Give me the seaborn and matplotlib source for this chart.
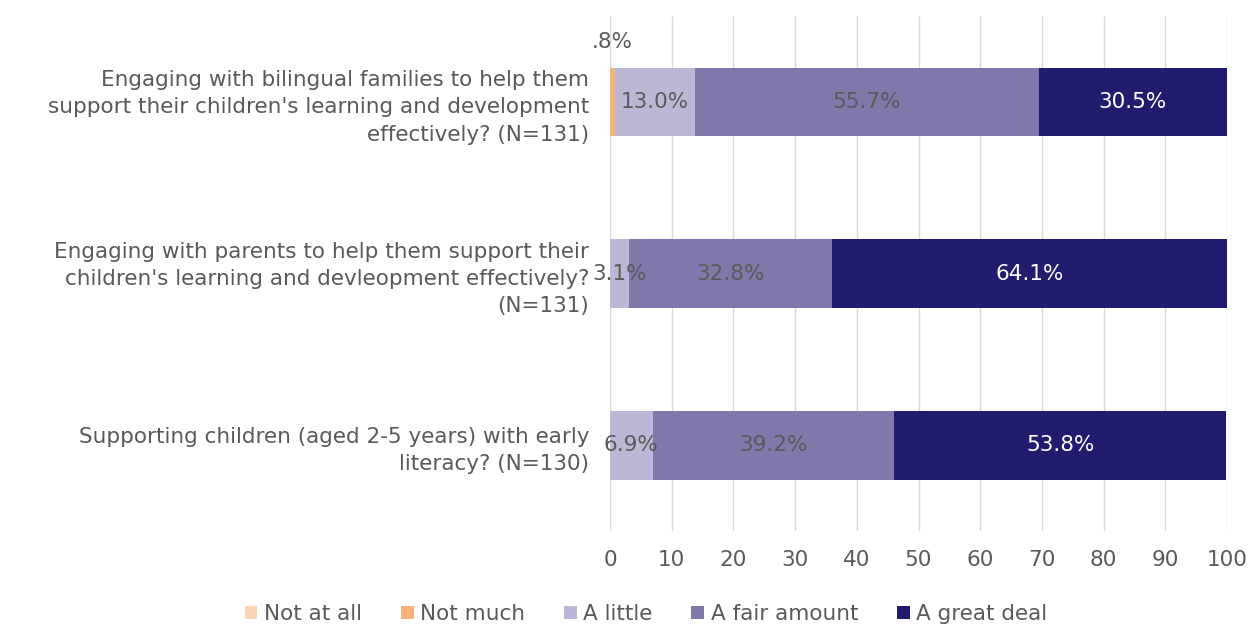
import matplotlib
matplotlib.use("Agg")
import matplotlib.pyplot as plt
import seaborn as sns
import pandas as pd
import numpy as np

questions = [
    "Engaging with bilingual families to help them\nsupport their children's learning and development\neffectively? (N=131)",
    "Engaging with parents to help them support their\nchildren's learning and devleopment effectively?\n(N=131)",
    "Supporting children (aged 2-5 years) with early\nliteracy? (N=130)",
]
responses = ["Not at all", "Not much", "A little", "A fair amount", "A great deal"]
not_at_all = [0.0, 0.0, 0.0]
not_much = [0.8, 0.0, 0.0]
a_little = [13.0, 3.1, 6.9]
fair_amount = [55.7, 32.8, 39.2]
great_deal = [30.5, 64.1, 53.8]

colors = ["#FCD5B5", "#F8B37C", "#BDB7D7", "#8078AA", "#221C6E"]
label_colors = ["#595959", "#595959", "#595959", "#595959", "#FFFFFF"]

sns.set_theme(style="white")
plt.rcParams["font.family"] = ["DejaVu Sans"]
text_color = "#595959"
fs = 15.5

df = pd.DataFrame({
    "question": questions,
    "Not at all": not_at_all,
    "Not much": not_much,
    "A little": a_little,
    "A fair amount": fair_amount,
    "A great deal": great_deal,
})

# Long format, with cumulative right edges so each stacked layer is drawn by seaborn
long = df.melt(id_vars="question", value_vars=responses, var_name="response", value_name="pct")
long["response"] = pd.Categorical(long["response"], categories=responses, ordered=True)
long = long.sort_values(["question", "response"])
long["right"] = long.groupby("question", sort=False)["pct"].cumsum()
long["left"] = long["right"] - long["pct"]

fig = plt.figure(figsize=(12.51, 6.27), dpi=100)
ax = fig.add_axes([610 / 1251, 1 - 531 / 627, 617 / 1251, 515 / 627])

# Draw the layers back to front: each bar extends to its cumulative right edge
for resp, col in reversed(list(zip(responses, colors))):
    sub = long[long["response"] == resp].set_index("question").loc[questions].reset_index()
    sns.barplot(data=sub, x="right", y="question", order=questions, color=col,
                width=0.4, orient="h", errorbar=None, ax=ax, label=resp,
                linewidth=0, saturation=1)

# Segment value labels
for i, q in enumerate(questions):
    rows = long[long["question"] == q]
    for _, r in rows.iterrows():
        v = r["pct"]
        if v <= 0:
            continue
        idx = responses.index(r["response"])
        cx = r["left"] + v / 2
        if v < 2:
            ax.text(cx, i - 0.35, f"{v:.1f}%".lstrip("0"), ha="center", va="center",
                    fontsize=fs, color=text_color, zorder=5)
        else:
            ax.text(cx, i, f"{v:.1f}%", ha="center", va="center",
                    fontsize=fs, color=label_colors[idx], zorder=5)

ax.set_xlim(0, 100)
ax.set_ylim(len(questions) - 0.5, -0.5)
ax.set_xticks(np.arange(0, 101, 10))
ax.tick_params(axis="x", labelsize=fs, colors=text_color, length=0, pad=14)
ax.set_yticks(range(len(questions)))
ax.set_yticklabels(questions, fontsize=fs, color=text_color, ha="right",
                   multialignment="right", linespacing=1.45)
ax.tick_params(axis="y", length=0, pad=15)
ax.grid(axis="x", color="#D9D9D9", linewidth=1)
ax.set_axisbelow(True)
ax.set_xlabel("")
ax.set_ylabel("")
for s in ax.spines.values():
    s.set_visible(False)

handles, labels = ax.get_legend_handles_labels()
order = [labels.index(r) for r in responses]
if ax.legend_:
    ax.legend_.remove()
leg = fig.legend([handles[k] for k in order], [labels[k] for k in order], loc="center",
                 bbox_to_anchor=(646 / 1251, 1 - 614 / 627), ncol=5, frameon=False,
                 fontsize=fs, handlelength=0.6, handleheight=0.6,
                 handletextpad=0.3, columnspacing=1.8)
for t in leg.get_texts():
    t.set_color(text_color)

fig.savefig("out.png", dpi=100)
